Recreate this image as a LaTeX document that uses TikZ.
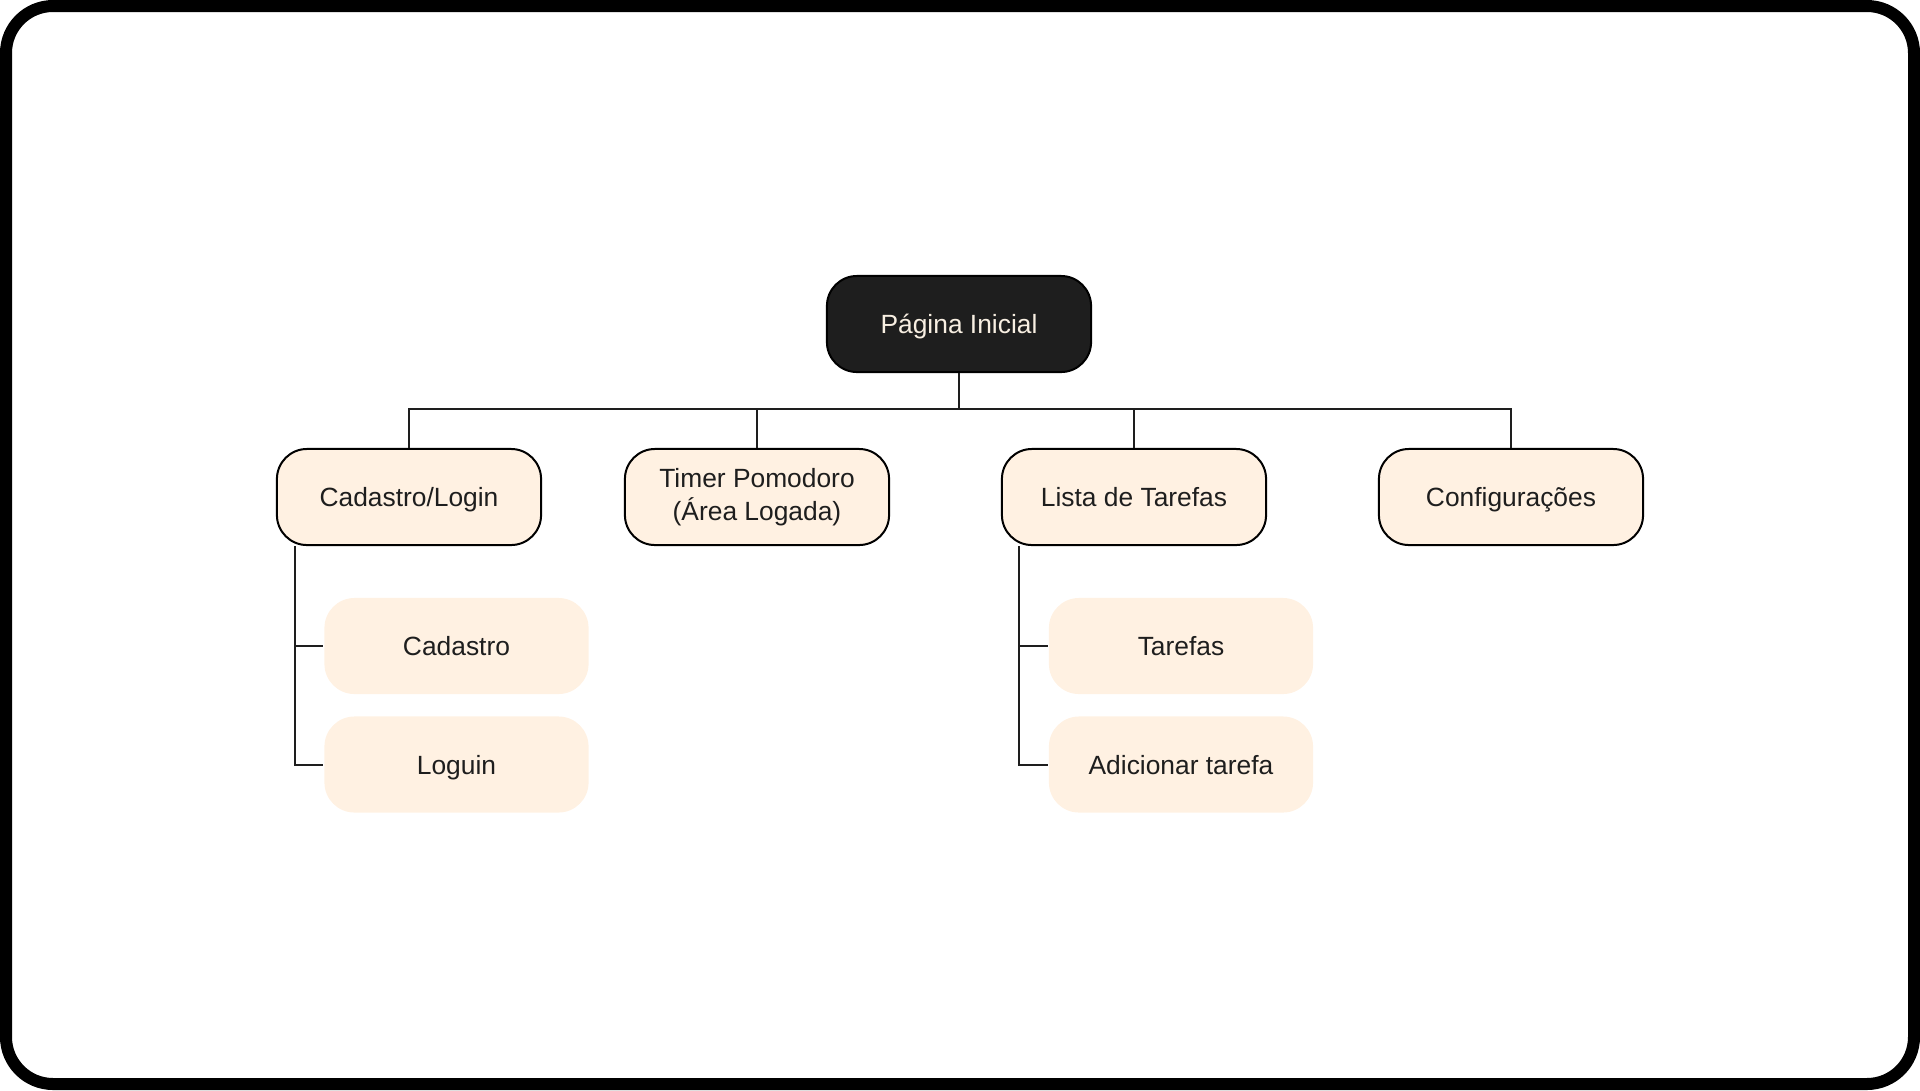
\documentclass[tikz,border=0pt]{standalone}
\usepackage{fontspec}
\setmainfont{Liberation Sans}
\usepackage{tikz}
\usetikzlibrary{calc}
\definecolor{creme}{HTML}{FFF1E2}
\definecolor{escuro}{HTML}{1E1E1E}
\definecolor{letra}{HTML}{F8EFE2}

\begin{document}
\begin{tikzpicture}[x=0.01cm, y=-0.01cm,
    base/.style={draw=black, line width=0.57pt, fill=creme, rounded corners=0.3cm,
      minimum width=2.64cm, minimum height=0.96cm, align=center, text=escuro,
      font=\fontsize{7.5}{9.2}\selectfont},
    caixa/.style={base, text height=0.19cm, text depth=0cm},
    raiz/.style={caixa, fill=escuro, text=letra},
    subcaixa/.style={caixa, draw=none},
    liga/.style={line width=0.57pt, draw=escuro}]
              \useasboundingbox (0,0) rectangle (1920,1090);
              \draw[line width=0.12cm, rounded corners=0.47cm] (6,6) rectangle (1914,1084);

              \draw (959,324) node[raiz]                   (pag) {Página Inicial};
              \draw (409,497) node[caixa]                  (cad) {Cadastro/Login};
              \draw (757,497) node[base]                   (tim) {Timer Pomodoro\\(Área Logada)};
              \draw (1134,497) node[caixa]                 (lis) {Lista de Tarefas};
              \draw (1511,497) node[caixa]                 (con) {Configurações};
              \draw (456.5,646) node[subcaixa]             (cds) {Cadastro};
              \draw (456.5,764.5) node[subcaixa]           (log) {Loguin};
              \draw (1181,646) node[subcaixa]              (taf) {Tarefas};
              \draw (1181,764.5) node[subcaixa]            (add) {Adicionar tarefa};

              \draw[liga] (pag.south) -- ++(0,36) -| (cad.north);
              \draw[liga] (pag.south) -- ++(0,36) -| (tim.north);
              \draw[liga] (pag.south) -- ++(0,36) -| (lis.north);
              \draw[liga] (pag.south) -- ++(0,36) -| (con.north);
              \draw[liga] ([xshift=0.19cm]cad.south west) |- (cds.west);
              \draw[liga] ([xshift=0.19cm]cad.south west) |- (log.west);
              \draw[liga] ([xshift=0.18cm]lis.south west) |- (taf.west);
              \draw[liga] ([xshift=0.18cm]lis.south west) |- (add.west);
\end{tikzpicture}
\end{document}
